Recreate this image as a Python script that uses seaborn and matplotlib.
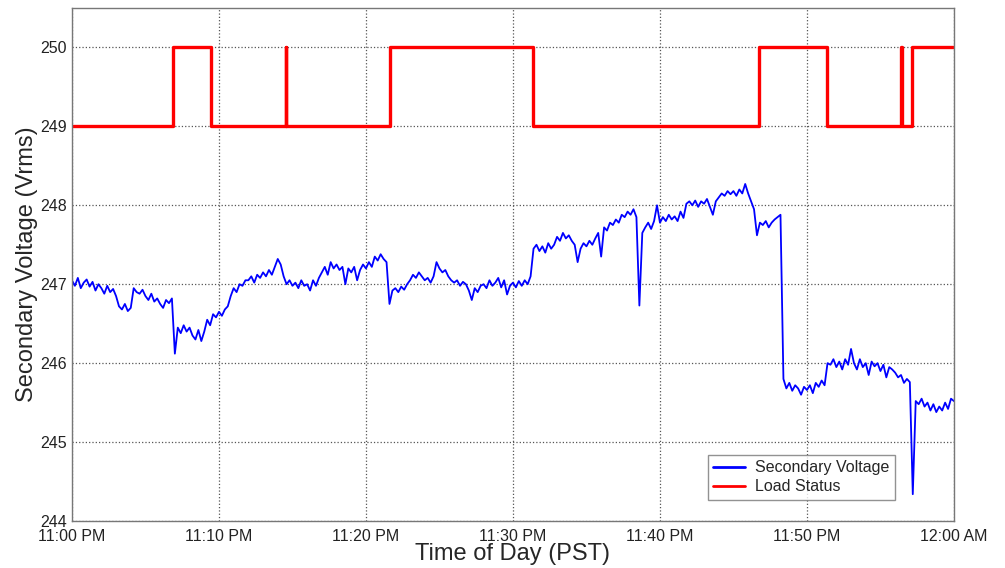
import numpy as np
import pandas as pd
import seaborn as sns
import matplotlib.pyplot as plt

# Secondary voltage, one reading every 0.2 min from 11:00 PM
voltage = [
    247.05, 246.98, 247.08, 246.95, 247.02, 247.06, 246.97, 247.03, 246.92, 247.00,
    246.95, 246.88, 246.98, 246.90, 246.94, 246.85, 246.72, 246.68, 246.75, 246.66,
    246.70, 246.95, 246.90, 246.88, 246.93, 246.85, 246.80, 246.88, 246.78, 246.82,
    246.75, 246.70, 246.80, 246.76, 246.82, 246.12, 246.45, 246.38, 246.48, 246.40,
    246.45, 246.35, 246.30, 246.42, 246.28, 246.40, 246.55, 246.48, 246.62, 246.58,
    246.65, 246.60, 246.68, 246.72, 246.85, 246.95, 246.90, 247.00, 246.98, 247.05,
    247.05, 247.10, 247.02, 247.12, 247.08, 247.15, 247.10, 247.18, 247.12, 247.22,
    247.32, 247.25, 247.10, 247.00, 247.05, 246.98, 247.02, 246.95, 247.05, 246.98,
    247.00, 246.92, 247.05, 246.98, 247.08, 247.15, 247.22, 247.12, 247.28, 247.20,
    247.25, 247.18, 247.22, 247.00, 247.20, 247.15, 247.22, 247.05, 247.18, 247.25,
    247.20, 247.28, 247.22, 247.35, 247.30, 247.38, 247.32, 247.28, 246.75, 246.92,
    246.95, 246.90, 246.97, 246.93, 247.00, 247.05, 247.12, 247.08, 247.15, 247.10,
    247.05, 247.08, 247.02, 247.10, 247.28, 247.20, 247.15, 247.18, 247.10, 247.05,
    247.02, 247.05, 246.98, 247.03, 247.00, 246.92, 246.80, 246.95, 246.90, 246.98,
    247.00, 246.95, 247.05, 246.98, 247.02, 247.08, 246.96, 247.05, 246.87, 246.98,
    247.02, 246.96, 247.04, 246.98, 247.05, 247.00, 247.10, 247.45, 247.50, 247.42,
    247.48, 247.40, 247.52, 247.45, 247.50, 247.60, 247.55, 247.65, 247.58, 247.62,
    247.55, 247.50, 247.28, 247.45, 247.52, 247.48, 247.55, 247.50, 247.58, 247.65,
    247.35, 247.72, 247.68, 247.78, 247.75, 247.82, 247.78, 247.88, 247.85, 247.92,
    247.88, 247.95, 247.85, 246.73, 247.65, 247.72, 247.78, 247.70, 247.80, 248.00,
    247.78, 247.85, 247.80, 247.88, 247.82, 247.86, 247.80, 247.92, 247.84, 248.02,
    248.05, 248.00, 248.06, 247.98, 248.05, 248.02, 248.08, 247.98, 247.88, 248.05,
    248.10, 248.15, 248.12, 248.18, 248.14, 248.18, 248.12, 248.20, 248.15, 248.27,
    248.15, 248.05, 247.95, 247.62, 247.78, 247.75, 247.80, 247.72, 247.78, 247.82,
    247.85, 247.88, 245.80, 245.68, 245.75, 245.65, 245.72, 245.68, 245.60, 245.70,
    245.66, 245.72, 245.62, 245.75, 245.70, 245.78, 245.72, 246.00, 245.98, 246.05,
    245.95, 246.02, 245.92, 246.05, 245.98, 246.18, 246.00, 245.92, 246.05, 245.95,
    246.00, 245.85, 246.02, 245.96, 246.00, 245.90, 245.98, 245.82, 245.95, 245.92,
    245.88, 245.82, 245.85, 245.75, 245.80, 245.76, 244.34, 245.52, 245.48, 245.55,
    245.45, 245.50, 245.40, 245.48, 245.38, 245.45, 245.40, 245.50, 245.42, 245.55,
    245.52,
]
minutes = np.arange(len(voltage)) * 0.2

# Load status switching times (minutes after 11:00 PM) and levels
status_times = [0, 6.89, 9.43, 14.55, 14.57, 21.63, 31.38, 46.73, 51.38, 56.42, 56.45, 57.12, 60]
status_levels = [249, 250, 249, 250, 249, 250, 249, 250, 249, 250, 249, 250, 250]

tick_minutes = [0, 10, 20, 30, 40, 50, 60]
tick_labels = ["11:00 PM", "11:10 PM", "11:20 PM", "11:30 PM", "11:40 PM", "11:50 PM", "12:00 AM"]

volt_df = pd.DataFrame({"t": minutes, "v": voltage})
load_df = pd.DataFrame({"t": status_times, "v": status_levels})

sns.set_style("white")
plt.rcParams["font.family"] = ["Liberation Sans", "DejaVu Sans"]

fig = plt.figure(figsize=(10.05, 5.68), dpi=100)
ax = fig.add_axes([0.0716, 0.0827, 0.8776, 0.9033])

sns.lineplot(data=volt_df, x="t", y="v", ax=ax, color="#0000ff", linewidth=1.3,
             estimator=None, sort=False, label="Secondary Voltage")
sns.lineplot(data=load_df, x="t", y="v", ax=ax, color="#ff0000", linewidth=2.4,
             estimator=None, sort=False, drawstyle="steps-post", label="Load Status")

ax.set_xlim(0, 60)
ax.set_ylim(244, 250.5)
ax.set_xticks(tick_minutes)
ax.set_xticklabels(tick_labels)
ax.set_yticks([244, 245, 246, 247, 248, 249, 250])
ax.grid(True, linestyle=":", color="#555555", linewidth=0.9)
ax.tick_params(direction="in", length=4, labelsize=11.5, colors="#222222")
ax.tick_params(axis="x", pad=6)
for s in ax.spines.values():
    s.set_color("#777777")
    s.set_linewidth(1.0)

ax.set_xlabel("Time of Day (PST)", fontsize=17, labelpad=-1)
ax.set_ylabel("Secondary Voltage (Vrms)", fontsize=17, labelpad=2)

leg = ax.legend(loc="lower right", bbox_to_anchor=(0.942, 0.026), fontsize=11.5,
                frameon=True, fancybox=False, handlelength=2.0, borderpad=0.35,
                labelspacing=0.25, handletextpad=0.6)
leg.get_frame().set_edgecolor("#777777")
leg.get_frame().set_linewidth(1.0)
for line in leg.get_lines():
    line.set_linewidth(2.0)

fig.savefig("out.png", dpi=100)
